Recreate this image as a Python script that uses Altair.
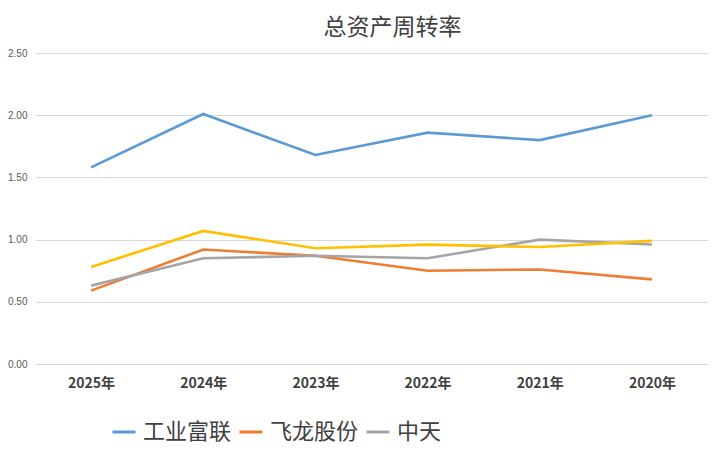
import altair as alt
import pandas as pd

years = ["2025年", "2024年", "2023年", "2022年", "2021年", "2020年"]
series_names = ["工业富联", "飞龙股份", "中天", "其他"]
gongye = [1.58, 2.01, 1.68, 1.86, 1.80, 2.00]
feilong = [0.59, 0.92, 0.87, 0.75, 0.76, 0.68]
zhongtian = [0.63, 0.85, 0.87, 0.85, 1.00, 0.96]
other = [0.78, 1.07, 0.93, 0.96, 0.94, 0.99]
colors = ["#5B9BD5", "#ED7D31", "#A5A5A5", "#FFC000"]

rows = []
for name, vals in zip(series_names, [gongye, feilong, zhongtian, other]):
    for y, v in zip(years, vals):
        rows.append({"year": y, "series": name, "value": v})
df = pd.DataFrame(rows)

font = "Noto Sans CJK SC"

chart = alt.Chart(df).mark_line(strokeWidth=2.6).encode(
    x=alt.X("year:N", sort=years, title=None,
            scale=alt.Scale(padding=0.5),
            axis=alt.Axis(labelAngle=0, labelFontSize=14, labelFontWeight="bold",
                          labelColor="#404040", labelFont=font, domain=False, ticks=False,
                          labelPadding=12)),
    y=alt.Y("value:Q", title=None,
            scale=alt.Scale(domain=[0, 2.5], nice=False),
            axis=alt.Axis(values=[0, 0.5, 1.0, 1.5, 2.0, 2.5], format=".2f",
                          labelFontSize=10, labelColor="#595959", labelFont="Liberation Sans",
                          domain=False, ticks=False, gridColor="#D9D9D9", labelPadding=8)),
    color=alt.Color("series:N", sort=series_names,
                    scale=alt.Scale(domain=series_names, range=colors),
                    legend=alt.Legend(title=None, orient="none", direction="horizontal",
                                      legendX=76, legendY=366,
                                      values=["工业富联", "飞龙股份", "中天"],
                                      symbolType="stroke", symbolSize=529, symbolStrokeWidth=3,
                                      labelFontSize=22, labelFont=font, labelColor="#404040",
                                      labelOffset=6, columnPadding=1, labelLimit=200)),
).properties(
    width=673,
    height=311,
    title=alt.TitleParams("总资产周转率", fontSize=23, font=font, fontWeight="normal",
                          color="#404040", offset=8, dx=21),
    padding={"left": 27, "top": 45, "right": 4, "bottom": 84},
    autosize=alt.AutoSizeParams(type="none"),
).configure_view(stroke=None)

chart.save("out.html", embed_options={"renderer": "svg", "actions": False})
